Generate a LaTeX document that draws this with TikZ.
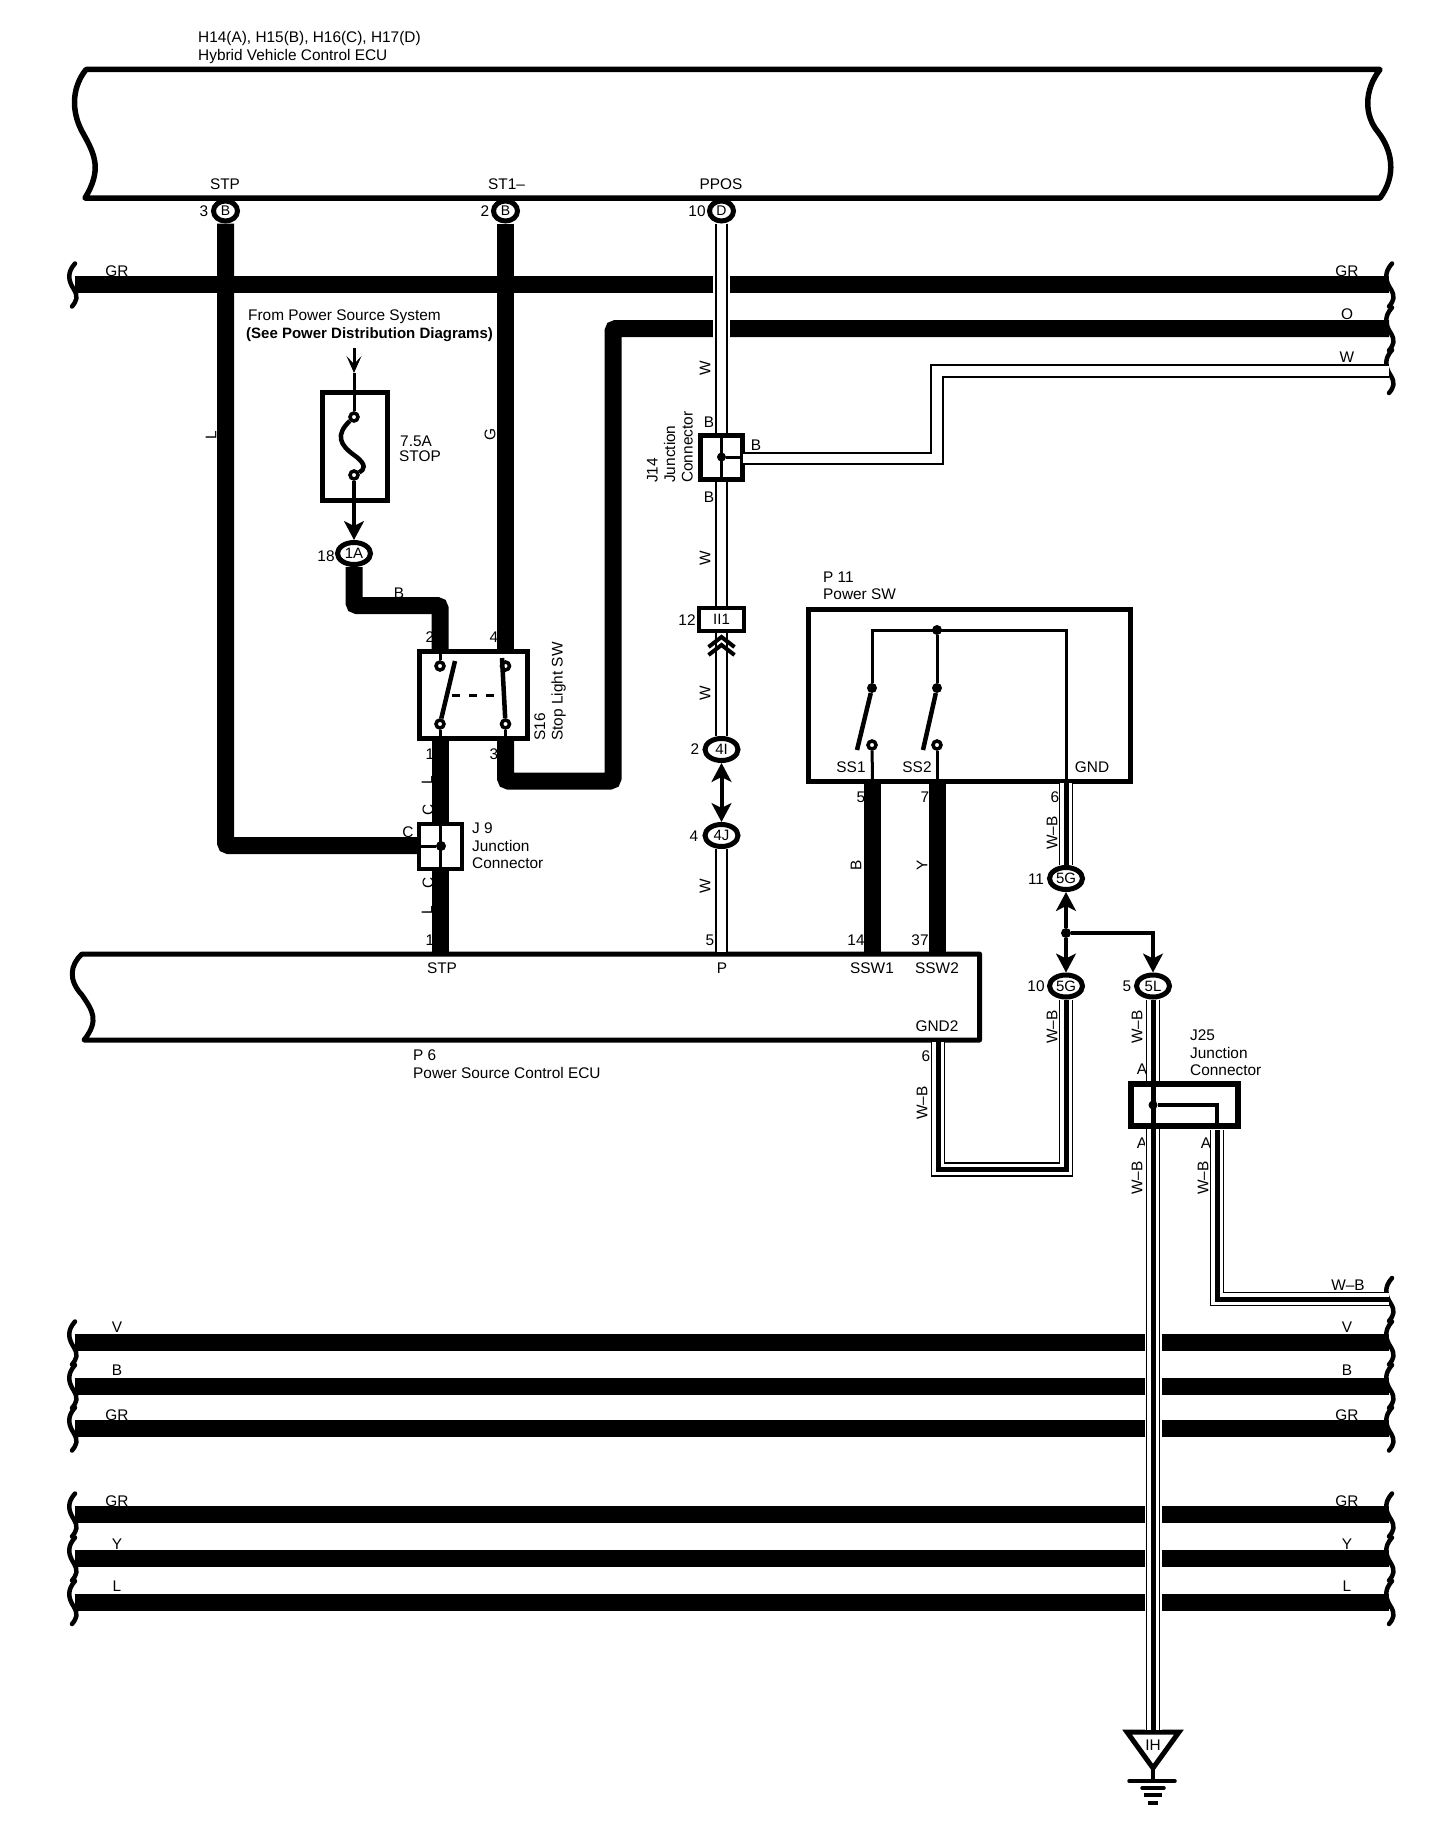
\documentclass[tikz,border=0pt]{standalone}
\usepackage{fontspec}
\setmainfont{Liberation Sans}
\usetikzlibrary{shapes.geometric, arrows.meta}
\tikzset{
    lbl/.style={font=\fontsize{15.4}{17.5}\selectfont, inner sep=0pt, align=left},
    boldlbl/.style={lbl, font=\fontsize{15}{17.5}\selectfont\bfseries},
    vlbl/.style={lbl, rotate=90},
    ecubox/.style={draw=black, line width=5.5pt, line join=round},
    conn/.style={
        ellipse, draw=black, line width=5pt, fill=white, inner sep=0pt,
        minimum width=33pt, minimum height=22pt, font=\fontsize{15}{17}\selectfont
    },
    pinconn/.style={conn, line width=5pt, minimum width=24pt, minimum height=20pt, font=\fontsize{14}{16}\selectfont},
    jbox/.style={rectangle, draw=black, line width=5pt, fill=white, inner sep=0pt},
    term/.style={circle, draw=black, line width=3.5pt, fill=white, inner sep=0pt, minimum size=8pt},
    dotjct/.style={circle, fill=black, inner sep=0pt, minimum size=10pt},
    bandwire/.style={draw=black, line width=17pt, rounded corners=3pt},
    whitewire/.style={draw=black, line width=1.8pt, double=white, double distance=9.5pt},
    whitehalo/.style={preaction={draw=white, line width=17pt}, whitewire},
    wbwire/.style={draw=black, line width=5pt,
        preaction={draw=black, line width=1.3pt, double=white, double distance=11.5pt}},
    wbhalo/.style={preaction={draw=white, line width=17pt}, wbwire},
    thinwire/.style={draw=black, line width=3pt},
    armwire/.style={draw=black, line width=4.5pt},
    tipwire/.style={draw=black, line width=4pt},
    fattip/.tip={Stealth[length=19pt, width=20pt, inset=5pt, line width=3pt]},
    forktip/.tip={Stealth[length=17pt, width=15pt, inset=8pt, line width=1.5pt]},
    wirebreak/.pic={
        \draw[black, line width=4.5pt, line cap=round]
            (2,-21) .. controls (-6,-12) and (-5,-4) .. (1,5)
            .. controls (5,12) and (4,16) .. (-1,22);
    }
}

\begin{document}
\begin{tikzpicture}[x=1pt, y=-1pt]
\useasboundingbox (0,0) rectangle (1440,1828);

% Hybrid vehicle ECU
\draw[ecubox] (86,69.5) -- (1380,69.5)
    .. controls (1364,90) and (1364,115) .. (1378,132)
    .. controls (1392,150) and (1397,175) .. (1380,198) -- (85,198)
    .. controls (102,170) and (95,155) .. (84,135)
    .. controls (72,115) and (70,90) .. (86,69.5) -- cycle;
\node[lbl, anchor=west] (ecuHname) at (198,47.5) {H14(A), H15(B), H16(C), H17(D)\\Hybrid Vehicle Control ECU};
\node[lbl] (pinSTP) at (225,184) {STP};
\node[lbl] (pinST) at (506.5,184) {ST1–};
\node[lbl] (pinPPOS) at (721,184) {PPOS};
\node[lbl] (num3) at (204,211) {3};
\node[lbl] (num2) at (485,211) {2};
\node[lbl] (num10) at (697,211) {10};
\node[pinconn] (connSTP) at (225.5,211) {B};
\node[pinconn] (connST) at (505.5,211) {B};
\node[pinconn] (connPPOS) at (721.5,211) {D};

% Power source ECU
\draw[ecubox, line width=5pt] (82,954) -- (979.5,954) -- (979.5,1040) -- (84,1040)
    .. controls (100,1020) and (92,1010) .. (82,995)
    .. controls (68,980) and (70,965) .. (82,954) -- cycle;
\node[lbl] (ecuPstp) at (442,968) {STP};
\node[lbl] (ecuPp) at (722,968) {P};
\node[lbl] (ecuPs1) at (872,968) {SSW1};
\node[lbl] (ecuPs2) at (937,968) {SSW2};
\node[lbl] (ecuPgnd) at (937,1026) {GND2};
\node[lbl, anchor=west] (ecuPname) at (413,1064) {P 6\\Power Source Control ECU};

% Wire colour and pin labels
\node[lbl, rotate=90] (lblL) at (211,435) {L};
\node[lbl, rotate=90] (lblG) at (490,435) {G};
\node[vlbl] (lblW1) at (705,368) {W};
\node[lbl] (lblB1) at (709,422) {B};
\node[lbl] (lblB2) at (709,497) {B};
\node[lbl] (lblB3) at (756,445) {B};
\node[vlbl] (lblW2) at (705,558) {W};
\node[vlbl] (lblW3) at (705,693) {W};
\node[vlbl] (lblW4) at (705,886) {W};
\node[lbl] (num12) at (687,620) {12};
\node[lbl] (num2b) at (695,749) {2};
\node[lbl] (num4b) at (694,836) {4};
\node[lbl] (num5b) at (710,940) {5};
\node[lbl] (lblBb) at (399,593) {B};
\node[lbl] (num18) at (326,556) {18};
\node[lbl] (sw2) at (430,637) {2};
\node[lbl] (sw4) at (494,637) {4};
\node[lbl] (sw1) at (430,754) {1};
\node[lbl] (sw3) at (494,754) {3};
\node[vlbl] (lblL2) at (427,780) {L};
\node[vlbl] (lblC1) at (428,810) {C};
\node[lbl] (lblC2) at (408,832) {C};
\node[vlbl] (lblC3) at (428,883) {C};
\node[vlbl] (lblL3) at (427,910) {L};
\node[lbl] (num1) at (430,940) {1};
\node[lbl] (num5) at (861,797) {5};
\node[lbl] (num7) at (925,797) {7};
\node[vlbl] (lblB4) at (856,865) {B};
\node[vlbl] (lblY) at (922,865) {Y};
\node[lbl] (num14) at (856,940) {14};
\node[lbl] (num37) at (920,940) {37};
\node[lbl] (num6) at (1055,797) {6};
\node[vlbl] (lblWB1) at (1052,833) {W–B};
\node[lbl] (num11) at (1036,879) {11};
\node[lbl] (num10b) at (1036,986) {10};
\node[lbl] (num5c) at (1127,986) {5};
\node[lbl] (num6b) at (926,1056) {6};
\node[vlbl] (lblWB2) at (922,1103) {W–B};
\node[vlbl] (lblWB3) at (1052,1027) {W–B};
\node[vlbl] (lblWB4) at (1137,1027) {W–B};
\node[vlbl] (lblWB5) at (1137,1178) {W–B};
\node[vlbl] (lblWB6) at (1203,1178) {W–B};
\node[lbl] (lblWB7) at (1348,1285) {W–B};
\node[lbl] (lblA1) at (1142,1069) {A};
\node[lbl] (lblA2) at (1142,1143) {A};
\node[lbl] (lblA3) at (1206,1143) {A};

% Long wires with break marks
\foreach \y/\n/\t/\ly in {284.5/GRa/GR/271, 1342.5/Va/V/1327, 1386/Ba/B/1370, 1428.5/GRb/GR/1415,
        1514.5/GRc/GR/1501, 1558.5/Ya/Y/1544, 1602/La/L/1586} {
    \node[lbl] (lbl\n l) at (117,\ly) {\t};
    \node[lbl] (lbl\n r) at (1347,\ly) {\t};
    \coordinate (\n L) at (75,\y);
    \coordinate (\n R) at (1389,\y);
    \draw[bandwire] (\n L) -- (\n R);
    \pic at (73,\y) {wirebreak};
    \pic at (1390,\y) {wirebreak};
}
\node[lbl] (lblOr) at (1347,314) {O};
\node[lbl] (lblWr) at (1347,357) {W};
\pic at (1390,328.5) {wirebreak};
\pic at (1390,371) {wirebreak};
\pic at (1390,1299) {wirebreak};

% Fuse
\node[lbl, anchor=west] (srcA) at (248,316.5) {From Power Source System};
\node[boldlbl, anchor=west] (srcB) at (246,334.5) {(See Power Distribution Diagrams)};
\node[jbox, minimum width=65pt, minimum height=108pt] (fuse) at (355,446.5) {};
\node[lbl, anchor=west] (fuseamp) at (400,441) {7.5A};
\node[lbl, anchor=west] (fusename) at (399,456) {STOP};
\coordinate (srcpt) at (354,348);
\coordinate (srctip) at (354,373);
\node[term] (fuseup) at (354,417) {};
\node[term] (fusedn) at (354,475) {};
\node[conn] (c1A) at (354,553.5) {1A};
\draw[tipwire, line width=3pt, -forktip] (srcpt) -- (srctip);
\draw[thinwire] (srctip) -- (fuseup);
\draw[armwire] (fuseup) .. controls (335,435) and (340,445) .. (354,455)
    .. controls (368,465) and (364,470) .. (fusedn);
\draw[tipwire, -fattip] (fusedn) -- (c1A);

% Stop light switch
\node[jbox, minimum width=108pt, minimum height=87pt] (s16) at (473.5,695) {};
\node[vlbl, anchor=west] (s16name) at (550,741) {S16\\Stop Light SW};
\coordinate (s16a) at (440,649);
\coordinate (s16b) at (505.5,649);
\coordinate (s16c) at (440,741);
\coordinate (s16d) at (505.5,741);
\node[term] (t2) at (440,666) {};
\node[term] (t4) at (505.5,666) {};
\node[term] (t1) at (440,724) {};
\node[term] (t3) at (505.5,724) {};
\coordinate (armA) at (455,661);
\coordinate (armB) at (502,658);
\coordinate (dashA) at (452,695);
\coordinate (dashB) at (502,695);
\draw[thinwire] (s16a) -- (t2);
\draw[thinwire] (s16c) -- (t1);
\draw[thinwire] (s16d) -- (t3);
\draw[armwire] (t1) -- (armA);
\draw[armwire] (t3) -- (armB);
\draw[thinwire, dashed, dash pattern=on 8pt off 9pt] (dashA) -- (dashB);

% Junction connector J9
\node[jbox, line width=4.5pt, minimum width=43pt, minimum height=45pt] (j9) at (440.5,846.5) {};
\node[lbl, anchor=north west] (j9name) at (472,823) {J 9\\Junction\\Connector};
\node[dotjct] (j9dot) at (441,846) {};
\coordinate (j9up) at (440,824);
\coordinate (j9dn) at (440,869);
\coordinate (j9in) at (417,846);
\draw[thinwire] (j9up) -- (j9dn);
\draw[thinwire] (j9in) -- (j9dot);

% Junction connector J14
\node[jbox, minimum width=42pt, minimum height=44pt] (j14) at (721.5,457.5) {};
\node[vlbl, anchor=west] (j14name) at (670,483) {J14\\Junction\\Connector};
\node[dotjct, minimum size=9pt] (j14dot) at (721.5,457) {};
\coordinate (j14up) at (721.5,435);
\coordinate (j14dn) at (721.5,480);
\coordinate (j14out) at (743,457);
\draw[thinwire] (j14up) -- (j14dn);
\draw[thinwire] (j14dot) -- (j14out);

% In-line connectors
\node[jbox, line width=4pt, minimum width=45pt, minimum height=23pt, font=\fontsize{15}{17}\selectfont] (ii1) at (721.5,619.5) {II1};
\node[conn] (c4I) at (721.5,749.5) {4I};
\node[conn] (c4J) at (721.5,835.5) {4J};

% Power switch
\node[jbox, minimum width=322pt, minimum height=172pt] (p11) at (969.5,695) {};
\node[lbl, anchor=west] (p11name) at (823,586) {P 11\\Power SW};
\node[lbl] (ss1) at (851,767) {SS1};
\node[lbl] (ss2) at (917,767) {SS2};
\node[lbl] (ssg) at (1092,767) {GND};
\node[dotjct] (p11dot) at (937,630) {};
\node[dotjct] (up1) at (872,688) {};
\node[dotjct] (up2) at (937,688) {};
\node[term] (lo1) at (872,745) {};
\node[term] (lo2) at (937,745) {};
\coordinate (cornA) at (872,630);
\coordinate (cornB) at (1066,630);
\coordinate (p11g) at (1066,783);
\coordinate (p11a) at (872.5,781);
\coordinate (p11b) at (937,781);
\coordinate (arm1) at (857,750);
\coordinate (arm2) at (923,750);
\draw[thinwire] (up1) -- (cornA) -- (cornB) -- (p11g);
\draw[thinwire] (p11dot) -- (up2);
\draw[armwire] (up1) -- (arm1);
\draw[armwire] (up2) -- (arm2);
\draw[thinwire] (lo1) -- (p11a);
\draw[thinwire] (lo2) -- (p11b);

% Lower connectors and J25
\node[conn] (c5Gu) at (1066,878.5) {5G};
\node[conn] (c5Gd) at (1066,986) {5G};
\node[conn] (c5L) at (1153,986) {5L};
\node[dotjct] (jct5G) at (1066,933) {};
\node[jbox, line width=6pt, minimum width=107pt, minimum height=42pt] (j25) at (1184.5,1105) {};
\node[lbl, anchor=north west] (j25name) at (1190,1030) {J25\\Junction\\Connector};
\node[dotjct, minimum size=9pt] (j25dot) at (1153,1105) {};
\coordinate (j25up) at (1153,1081);
\coordinate (j25dn) at (1153,1129);
\coordinate (j25br) at (1217,1105);
\coordinate (j25out) at (1217,1127);

% Ground
\coordinate (gndL) at (1127,1732);
\coordinate (gndR) at (1179,1732);
\coordinate (gndA) at (1153,1768);
\coordinate (gndT) at (1153,1730);
\coordinate (gndB) at (1153,1781);
\node[lbl] (gndname) at (1153,1745) {IH};
\draw[draw=black, line width=5pt] (gndL) -- (gndR) -- (gndA) -- cycle;
\draw[thinwire, line width=4pt] (gndA) -- (gndB);
\draw[thinwire, line width=3.5pt, line cap=round] (1129,1781) -- (1175,1781);
\draw[thinwire, line width=3.5pt, line cap=round] (1142,1788) -- (1164,1788);
\draw[thinwire, line width=3.5pt] (1144,1795) -- (1162,1795);
\draw[thinwire, line width=3.5pt] (1148,1803) -- (1158,1803);

% Wires
\coordinate (stpbend) at (225.5,845.5);
\coordinate (j9left) at (419,845.5);
\coordinate (stpecu) at (440,953);
\coordinate (bendB) at (440,605.5);
\coordinate (bendOa) at (505.5,781);
\coordinate (bendOb) at (613,781);
\coordinate (bendOc) at (613,328.5);
\coordinate (Oend) at (1389,328.5);
\coordinate (ecuS1) at (872.5,953);
\coordinate (ecuS2) at (937,953);
\coordinate (ecuP) at (721.5,952);
\coordinate (bendGb) at (1066,1169.5);
\coordinate (ecuG) at (938,1042);
\coordinate (jctEl) at (1153,933);
\coordinate (j14right) at (743,458.5);
\coordinate (bendWa) at (937,458.5);
\coordinate (bendWb) at (937,371);
\coordinate (Wend) at (1389,371);
\coordinate (j25low) at (1217,1130);
\coordinate (bendJ) at (1217,1299);
\coordinate (WBend) at (1389,1299);
\draw[bandwire] (connSTP) -- (stpbend) -- (j9left);
\draw[bandwire] (connST) -- (s16b);
\draw[bandwire] (s16d) -- (bendOa) -- (bendOb) -- (bendOc) -- (Oend);
\draw[bandwire] (c1A) |- (bendB) -- (s16a);
\draw[bandwire, rounded corners=0pt] (s16c) -- (j9up);
\draw[bandwire, rounded corners=0pt] (j9dn) -- (stpecu);
\draw[bandwire, rounded corners=0pt] (p11a) -- (ecuS1);
\draw[bandwire, rounded corners=0pt] (p11b) -- (ecuS2);
\draw[whitehalo] (connPPOS) -- (j14.north);
\draw[whitewire] (j14.south) -- (ii1.north);
\draw[whitewire] (ii1.south) -- (c4I);
\draw[whitewire] (c4J) -- (ecuP);
\draw[whitewire] (j14right) -- (bendWa) -- (bendWb) -- (Wend);
\draw[draw=black, line width=4pt] (708.5,647) -- (721.5,637) -- (734.5,647);
\draw[draw=black, line width=4pt] (708.5,655) -- (721.5,645) -- (734.5,655);
\draw[tipwire, fattip-fattip] (c4I) -- (c4J);
\draw[wbwire] (p11g) -- (c5Gu);
\draw[tipwire, fattip-] (c5Gu) -- (jct5G);
\draw[tipwire, -fattip] (jct5G) -- (c5Gd);
\draw[tipwire, -fattip] (jct5G) -| (c5L);
\draw[wbwire] (ecuG) |- (bendGb) -- (c5Gd);
\draw[wbwire] (c5L) -- (j25up);
\draw[draw=black, line width=5pt] (j25up) -- (j25dn);
\draw[thinwire, line width=3.5pt] (j25dot) -- (j25br) -- (j25out);
\draw[wbhalo] (j25dn) -- (gndT);
\draw[wbwire] (j25low) -- (bendJ) -- (WBend);
\end{tikzpicture}
\end{document}
